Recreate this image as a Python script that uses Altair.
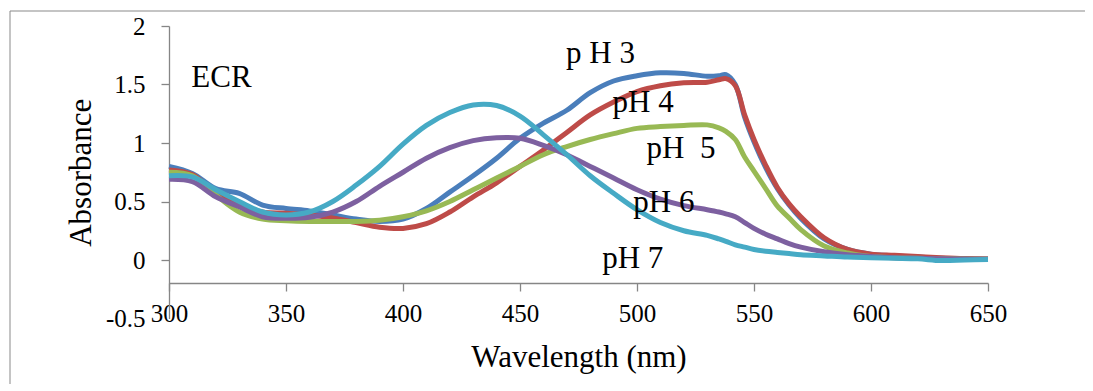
import altair as alt
import pandas as pd

wavelength = [300, 310, 320, 330, 340, 350, 360, 370, 380, 390, 400, 410, 420, 430,
              440, 450, 460, 470, 480, 490, 500, 510, 520, 530, 535, 538, 542, 546,
              550, 555, 560, 565, 570, 580, 590, 600, 610, 620, 630, 640, 650]

ph3 = [0.80, 0.74, 0.61, 0.57, 0.47, 0.44, 0.42, 0.385, 0.35, 0.33, 0.35, 0.44, 0.58, 0.72,
       0.87, 1.04, 1.17, 1.28, 1.43, 1.53, 1.575, 1.60, 1.595, 1.57, 1.575, 1.585, 1.50, 1.22,
       1.01, 0.79, 0.61, 0.47, 0.355, 0.18, 0.09, 0.05, 0.035, 0.025, 0.015, 0.01, 0.008]
ph4 = [0.77, 0.73, 0.57, 0.48, 0.41, 0.40, 0.385, 0.36, 0.32, 0.28, 0.27, 0.31, 0.41, 0.54,
       0.66, 0.80, 0.94, 1.09, 1.24, 1.35, 1.44, 1.49, 1.515, 1.52, 1.54, 1.55, 1.49, 1.24,
       1.03, 0.81, 0.62, 0.48, 0.37, 0.19, 0.09, 0.05, 0.04, 0.03, 0.02, 0.012, 0.008]
ph5 = [0.75, 0.72, 0.555, 0.41, 0.35, 0.336, 0.33, 0.33, 0.33, 0.34, 0.37, 0.42, 0.50, 0.60,
       0.70, 0.80, 0.90, 0.97, 1.03, 1.08, 1.125, 1.14, 1.15, 1.155, 1.13, 1.10, 1.03, 0.88,
       0.76, 0.61, 0.46, 0.36, 0.26, 0.12, 0.06, 0.03, 0.02, 0.015, 0.01, 0.008, 0.006]
ph6 = [0.69, 0.67, 0.54, 0.455, 0.37, 0.356, 0.365, 0.41, 0.50, 0.63, 0.75, 0.87, 0.96, 1.02,
       1.045, 1.04, 0.98, 0.90, 0.80, 0.70, 0.60, 0.52, 0.465, 0.43, 0.41, 0.395, 0.37, 0.32,
       0.27, 0.22, 0.18, 0.14, 0.11, 0.07, 0.045, 0.03, 0.02, 0.015, 0.01, 0.008, 0.006]
ph7 = [0.72, 0.71, 0.60, 0.50, 0.41, 0.385, 0.41, 0.50, 0.64, 0.80, 0.99, 1.15, 1.26, 1.325,
       1.32, 1.23, 1.07, 0.90, 0.72, 0.57, 0.43, 0.32, 0.25, 0.21, 0.18, 0.16, 0.13, 0.11,
       0.09, 0.075, 0.065, 0.055, 0.045, 0.035, 0.025, 0.02, 0.015, 0.01, -0.005, 0.0, 0.005]

series_names = ["pH 3", "pH 4", "pH 5", "pH 6", "pH 7"]
series_colors = ["#4A7EBB", "#BE4B48", "#98B954", "#7D60A0", "#46AAC5"]

label_texts = ["ECR", "p H 3", "pH 4", "pH\u00a0 5", "pH 6", "pH 7"]
label_wl = [322.4, 484.4, 502.6, 518.8, 511.5, 498.2]
label_abs = [1.476, 1.681, 1.268, 0.869, 0.413, -0.071]

x_ticks = [300, 350, 400, 450, 500, 550, 600, 650]
y_ticks = [-0.5, 0, 0.5, 1, 1.5, 2]

rows = []
for name, vals in zip(series_names, [ph3, ph4, ph5, ph6, ph7]):
    for w, a in zip(wavelength, vals):
        rows.append({"wl": w, "absorb": a, "series": name})
df = pd.DataFrame(rows)

labels_df = pd.DataFrame({"text": label_texts, "wl": label_wl, "absorb": label_abs})

FONT = "Liberation Serif"
AXIS_GRAY = "#868686"

x_enc = alt.X(
    "wl:Q",
    scale=alt.Scale(domain=[300, 650], nice=False, zero=False),
    axis=alt.Axis(
        values=x_ticks, title="Wavelength (nm)", offset=-35.5, tickSize=8,
        labelPadding=10, labelExpr="'' + datum.value", labelFlush=False,
        labelFont=FONT, labelFontSize=25, labelColor="black",
        titleFont=FONT, titleFontSize=31, titleFontWeight="normal", titleColor="black",
        titleY=83.7, titleBaseline="alphabetic",
        domainColor=AXIS_GRAY, tickColor=AXIS_GRAY, domainWidth=1.3, tickWidth=1.3, grid=False,
    ),
)
y_enc = alt.Y(
    "absorb:Q",
    scale=alt.Scale(domain=[-0.5, 2], nice=False, zero=False),
    axis=alt.Axis(
        values=y_ticks, title="Absorbance", tickSize=8, labelPadding=16,
        labelExpr="'' + datum.value", labelFlush=False,
        labelFont=FONT, labelFontSize=25, labelColor="black",
        titleFont=FONT, titleFontSize=31, titleFontWeight="normal", titleColor="black",
        titleX=-79, titleBaseline="alphabetic",
        domainColor=AXIS_GRAY, tickColor=AXIS_GRAY, domainWidth=1.3, tickWidth=1.3, grid=False,
        tickOpacity=alt.condition("datum.value < -0.4", alt.value(0), alt.value(1)),
    ),
)

lines = alt.Chart(df).mark_line(interpolate="catmull-rom", strokeWidth=5).encode(
    x=x_enc,
    y=y_enc,
    color=alt.Color("series:N", scale=alt.Scale(domain=series_names, range=series_colors), legend=None),
)

texts = alt.Chart(labels_df).mark_text(
    font=FONT, fontSize=31, align="center", baseline="alphabetic", color="black"
).encode(x="wl:Q", y="absorb:Q", text="text:N")

frame_df = pd.DataFrame({"k": [0]})
frame_top = alt.Chart(frame_df).mark_rule(color="#898989", strokeWidth=1).encode(
    x=alt.value(-159), x2=alt.value(940), y=alt.value(-15)
)
frame_left = alt.Chart(frame_df).mark_rule(color="#898989", strokeWidth=1).encode(
    x=alt.value(-159), y=alt.value(-15), y2=alt.value(380)
)

chart = alt.layer(frame_top, frame_left, lines, texts).properties(
    width=819, height=292.5,
    autosize=alt.AutoSizeParams(type="none"),
    padding={"left": 161, "top": 18, "right": 97, "bottom": 65},
).configure(font=FONT).configure_view(stroke=None).configure_axis(
    labelFont=FONT, titleFont=FONT,
)

chart.save("out.html", embed_options={"renderer": "svg", "actions": False})
